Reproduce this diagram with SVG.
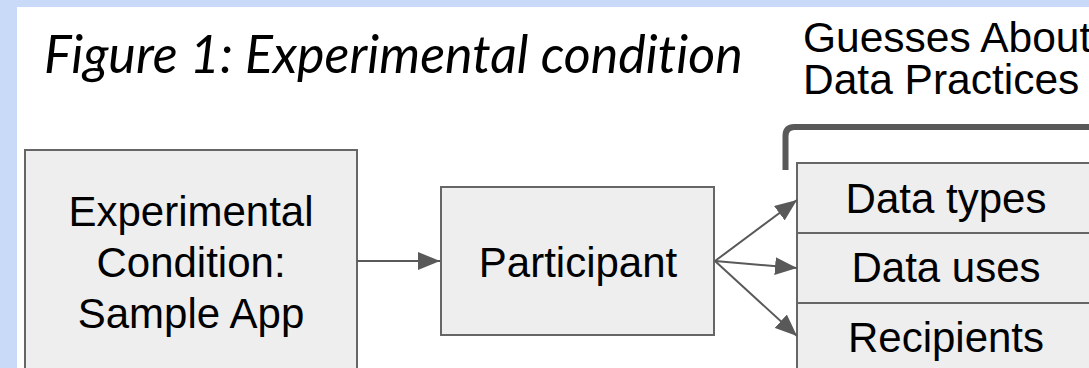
<svg xmlns="http://www.w3.org/2000/svg" width="1089" height="368" viewBox="0 0 1089 368">
<style>
.box{fill:#eeeeee;stroke:#666666;stroke-width:2}
.lbl{font-family:"Liberation Sans",Arial,sans-serif;font-size:42px;fill:#000;text-anchor:middle}
.conn{stroke:#595959;stroke-width:2;fill:none}
.title{font-family:Lato,"Open Sans",sans-serif;font-style:italic;font-size:52px;fill:#000;font-variant-ligatures:none}
</style>
<defs>
<marker id="arr" markerUnits="userSpaceOnUse" markerWidth="24" markerHeight="18" refX="22" refY="9" orient="auto">
<path d="M0,0 L22,9 L0,18 z" fill="#595959"/>
</marker>
</defs>
<rect x="0" y="0" width="1089" height="368" fill="#c9daf8"/>
<rect x="17" y="7" width="1072" height="361" fill="#ffffff"/>
<text class="title" x="44" y="73">Figure 1: Experimental condition</text>
<g id="guesses-label">
<text class="lbl" style="text-anchor:start;font-size:42.5px"><tspan x="803" y="51.5">Guesses About</tspan><tspan x="803" y="93.5">Data Practices</tspan></text>
</g>
<g id="bracket">
<path d="M785.5,170 V136 Q785.5,127 794.5,127 H1089" stroke="#595959" stroke-width="6" fill="none"/>
</g>
<g id="experimental">
<rect class="box" x="25" y="150" width="332" height="230"/>
<text class="lbl" x="191" y="226">Experimental</text>
<text class="lbl" x="191" y="277">Condition:</text>
<text class="lbl" x="191" y="328">Sample App</text>
</g>
<g id="participant">
<rect class="box" x="441" y="187" width="273" height="148"/>
<text class="lbl" x="578" y="277">Participant</text>
</g>
<g id="data-types">
<rect class="box" x="797" y="163" width="300" height="70"/>
<text class="lbl" x="946" y="213">Data types</text>
</g>
<g id="data-uses">
<rect class="box" x="797" y="233" width="300" height="70"/>
<text class="lbl" x="946" y="282">Data uses</text>
</g>
<g id="recipients">
<rect class="box" x="797" y="303" width="300" height="70"/>
<text class="lbl" x="946" y="352">Recipients</text>
</g>
<g id="connectors">
<line class="conn" x1="357" y1="261" x2="440" y2="261" marker-end="url(#arr)"/>
<line class="conn" x1="715" y1="261" x2="797" y2="200" marker-end="url(#arr)"/>
<line class="conn" x1="715" y1="261" x2="797" y2="268" marker-end="url(#arr)"/>
<line class="conn" x1="715" y1="261" x2="797" y2="336" marker-end="url(#arr)"/>
</g>
</svg>
